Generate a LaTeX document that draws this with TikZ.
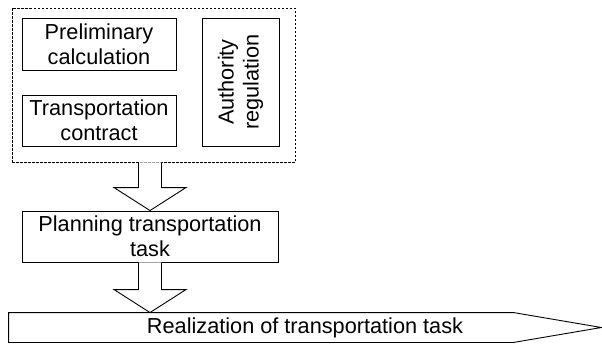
\documentclass[tikz,border=0pt]{standalone}
\usepackage{fontspec}
\setmainfont{Liberation Sans}
\usetikzlibrary{calc}

% block arrow between two points on one vertical line
\newcommand{\blockarrow}[2]{%
  \draw[blockline] ($(#1)+(-11.5,0)$) -- ($(#2)+(-11.5,-23)$) -- ($(#2)+(-36,-23)$)
    -- (#2) -- ($(#2)+(36,-23)$) -- ($(#2)+(11.5,-23)$) -- ($(#1)+(11.5,0)$);}

\begin{document}
\begin{tikzpicture}[x=1pt, y=-1pt,
  box/.style={draw, line width=0.9pt, inner sep=0pt, align=center,
    font=\fontsize{21.7}{25}\selectfont},
  groupbox/.style={draw, dashed, dash pattern=on 2.5pt off 1.5pt, line width=0.8pt,
    minimum width=283pt, minimum height=154pt},
  blockline/.style={line width=0.9pt, fill=white, line join=miter}]
  \useasboundingbox (0,0) rectangle (602,343);

  % Inputs
  \node[groupbox] (grp) at (153.5,85) {};
  \node[box, minimum width=154pt, minimum height=52pt] (prelim) at (99,44)
    {Preliminary\\calculation};
  \node[box, minimum width=154pt, minimum height=51pt] (contract) at (99,120.5)
    {Transportation\\contract};
  \node[box, minimum width=77pt, minimum height=128pt] (auth) at (240.5,82) {};
  \node[rotate=90, align=center, inner sep=0pt,
    font=\fontsize{21.7}{25}\selectfont] (authtext) at (auth.center)
    {Authority\\regulation};

  % Planning
  \node[box, minimum width=256pt, minimum height=51pt] (plan) at (150,236.5)
    {Planning transportation\\task};

  % Realization (pointed bar)
  \node[box, draw=none, minimum width=592pt, minimum height=29pt] (real) at (305,327.5)
    {Realization of transportation task};
  \draw[line width=0.9pt, line join=miter] (real.north west)
    -- ($(real.north east)+(-88,0)$) -- (real.east)
    -- ($(real.south east)+(-88,0)$) -- (real.south west) -- cycle;

  % Arrows
  \blockarrow{grp.south -| plan.north}{plan.north}
  \blockarrow{plan.south}{plan.south |- real.north}
\end{tikzpicture}
\end{document}
